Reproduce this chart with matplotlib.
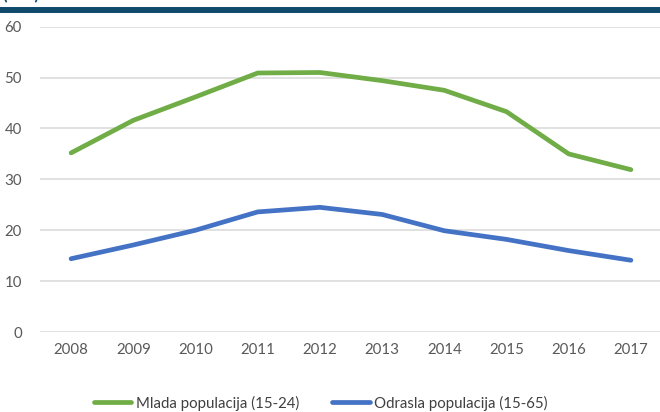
import matplotlib
matplotlib.use("Agg")
import matplotlib.pyplot as plt
from matplotlib.lines import Line2D

years = ["2008", "2009", "2010", "2011", "2012", "2013", "2014", "2015", "2016", "2017"]
mlada = [35.2, 41.6, 46.2, 50.9, 51.0, 49.4, 47.5, 43.3, 35.0, 31.9]
odrasla = [14.4, 17.1, 20.0, 23.6, 24.5, 23.1, 19.9, 18.2, 16.0, 14.1]
series_names = ["Mlada populacija (15-24)", "Odrasla populacija (15-65)"]
y_ticks = [0, 10, 20, 30, 40, 50, 60]

plt.rcParams['font.family'] = ['Lato', 'DejaVu Sans']

fig = plt.figure(figsize=(6.6, 4.12), dpi=100)
ax = fig.add_axes([40/660, 1-332/412, 622/660, (332-26.7)/412])

x = list(range(len(years)))
green = "#70ad47"
blue = "#4472c4"
ax.plot(x, mlada, color=green, lw=3.4, solid_capstyle='round', solid_joinstyle='round', zorder=3)
ax.plot(x, odrasla, color=blue, lw=3.4, solid_capstyle='round', solid_joinstyle='round', zorder=3)

ax.set_xlim(-0.5, len(years) - 0.5)
ax.set_ylim(0, 60)
ax.set_yticks(y_ticks)
ax.set_xticks(x)
ax.set_xticklabels(years)
ax.yaxis.grid(True, color="#d9d9d9", lw=1.1)
ax.set_axisbelow(True)
for s in ax.spines.values():
    s.set_visible(False)
ax.tick_params(axis='both', length=0, labelsize=10.8, labelcolor="#595959")
ax.tick_params(axis='y', pad=13)
ax.tick_params(axis='x', pad=8)

# top dark band and clipped title text (only its lowest part shows, as in the reference)
fig.add_artist(Line2D([0, 1], [1-9.8/412, 1-9.8/412], color="#0f4a6c", lw=4.3, transform=fig.transFigure))
fig.text(3/660, 1-0.5/412, "(u %)", fontsize=12, fontweight='bold', color="#0f4a6c", va='baseline', ha='left')

handles = [Line2D([], [], color=green, lw=3.4, solid_capstyle='round'),
           Line2D([], [], color=blue, lw=3.4, solid_capstyle='round')]
fig.legend(handles, series_names, loc='center', bbox_to_anchor=(0.486, 1-403/412), ncol=2,
           frameon=False, fontsize=10.8, labelcolor="#404040", handlelength=2.5,
           handletextpad=0.3, columnspacing=2.2)

fig.savefig("out.png", dpi=100)
